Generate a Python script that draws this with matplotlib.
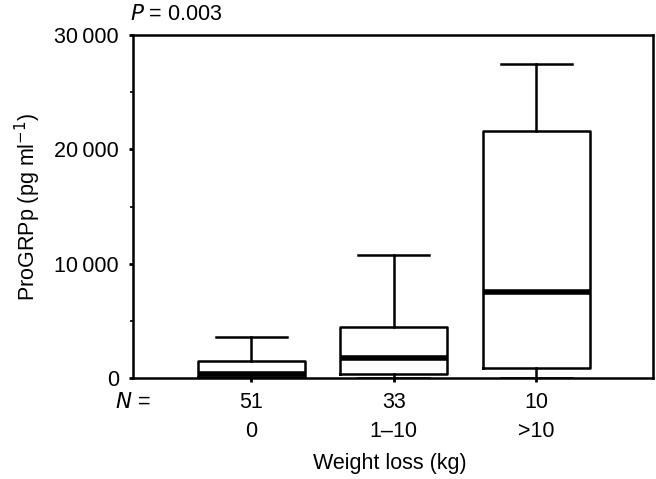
import matplotlib
matplotlib.use("Agg")
import matplotlib.pyplot as plt
from matplotlib.ticker import FixedLocator

plt.rcParams['font.family'] = ['Liberation Sans', 'DejaVu Sans']

categories = ["0", "1\u201310", ">10"]
counts = [51, 33, 10]
whislo = [0, 0, 0]
q1 = [50, 320, 850]
med = [350, 1720, 7550]
q3 = [1510, 4500, 21600]
whishi = [3600, 10800, 27500]
yticks = [0, 10000, 20000, 30000]
yticklabels = ["0", "10\u2009000", "20\u2009000", "30\u2009000"]

FS = 15.5

fig = plt.figure(figsize=(6.56, 4.79), dpi=100)
ax = fig.add_axes([133/656, 1-378/479, (653-133)/656, (378-35)/479])

stats = []
for i in range(len(categories)):
    stats.append(dict(whislo=whislo[i], q1=q1[i], med=med[i], q3=q3[i], whishi=whishi[i], fliers=[]))

pos = [1, 2, 3]
ax.bxp(stats, positions=pos, widths=0.75, showfliers=False, patch_artist=False,
       boxprops=dict(color='black', linewidth=1.8),
       whiskerprops=dict(color='black', linewidth=1.8),
       capprops=dict(color='black', linewidth=1.8),
       medianprops=dict(color='black', linewidth=4.0, solid_capstyle='butt'),
       capwidths=0.5)

ax.set_xlim(0.17, 3.82)
ax.set_ylim(0, 30000)
ax.yaxis.set_major_locator(FixedLocator(yticks))
ax.set_yticklabels(yticklabels, fontsize=FS)
ax.yaxis.set_minor_locator(FixedLocator([5000, 15000, 25000]))
ax.tick_params(axis='y', which='major', direction='out', length=3, width=2, pad=7)
ax.tick_params(axis='y', which='minor', direction='out', length=2, width=1.2)
ax.set_xticks(pos)
ax.set_xticklabels([])
ax.tick_params(axis='x', which='major', direction='out', length=3, width=2)
for s in ax.spines.values():
    s.set_linewidth(1.8)

trans = ax.get_xaxis_transform()
for p, n, c in zip(pos, counts, categories):
    ax.text(p, -0.07, str(n), transform=trans, ha='center', va='center', fontsize=FS)
    ax.text(p, -0.155, c, transform=trans, ha='center', va='center', fontsize=FS)
ax.text(0.17, -0.07, "$N$ =", transform=trans, ha='center', va='center', fontsize=FS)

ax.set_ylabel("ProGRPp (pg ml$^{-1}$)", fontsize=FS, labelpad=8)
fig.text(390/656, 1-464/479, "Weight loss (kg)", ha='center', va='center', fontsize=FS)
fig.text(130/656, 1-14/479, "$P$ = 0.003", ha='left', va='center', fontsize=FS)

fig.savefig("out.png", dpi=100)
